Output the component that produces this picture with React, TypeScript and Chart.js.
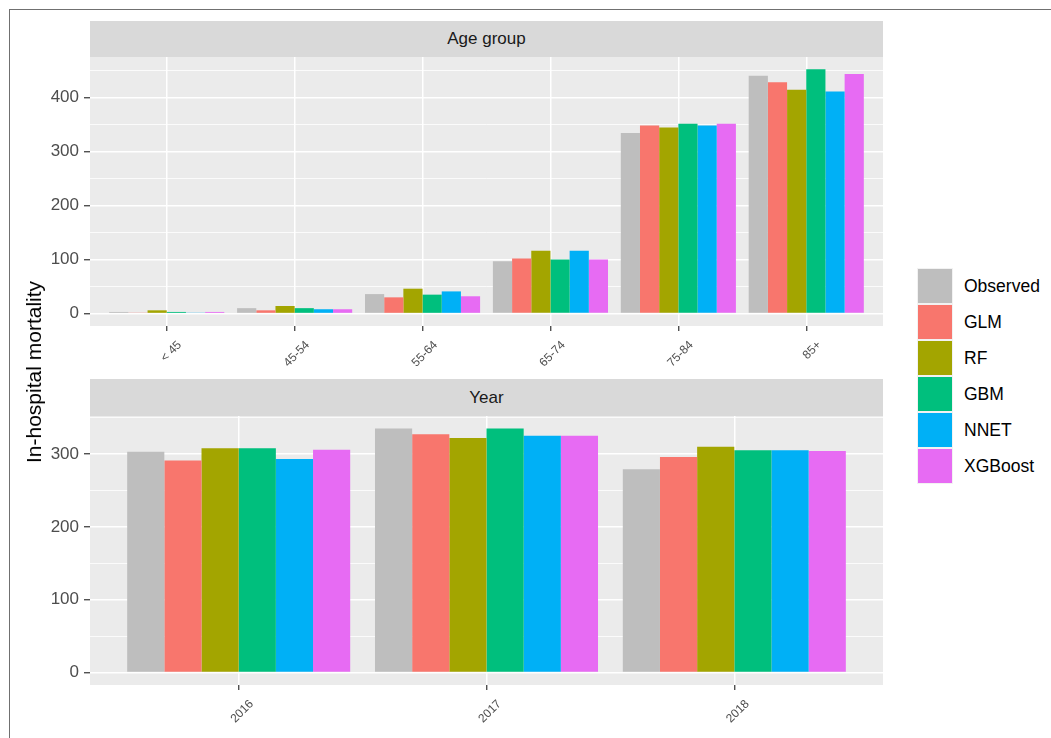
import React, { useEffect, useRef } from 'react';
import { Chart, registerables } from 'chart.js';

Chart.register(...registerables);

const FONT = '"Liberation Sans", Arial, sans-serif';

const seriesNames = ['Observed', 'GLM', 'RF', 'GBM', 'NNET', 'XGBoost'];
const seriesColors = ['#BEBEBE', '#F8766D', '#A3A500', '#00BF7D', '#00B0F6', '#E76BF3'];

const ageCategories = ['< 45', '45-54', '55-64', '65-74', '75-84', '85+'];
const ageObserved = [3, 10, 36, 97, 334, 440];
const ageGLM = [1, 6, 30, 102, 348, 428];
const ageRF = [6, 14, 46, 116, 344, 414];
const ageGBM = [3, 10, 35, 100, 351, 452];
const ageNNET = [1, 8, 41, 116, 348, 411];
const ageXGBoost = [3, 8, 32, 100, 351, 443];

const yearCategories = ['2016', '2017', '2018'];
const yearObserved = [303, 335, 279];
const yearGLM = [291, 327, 296];
const yearRF = [308, 322, 310];
const yearGBM = [308, 335, 305];
const yearNNET = [293, 325, 305];
const yearXGBoost = [306, 325, 304];

const ageYTicks = [0, 50, 100, 150, 200, 250, 300, 350, 400, 450];
const yearYTicks = [0, 50, 100, 150, 200, 250, 300, 350];

const panelBg = {
  id: 'panelBg',
  beforeDraw(chart: any) {
    const { ctx, chartArea: a } = chart;
    ctx.save();
    ctx.fillStyle = '#EBEBEB';
    ctx.fillRect(a.left, a.top, a.right - a.left, a.bottom - a.top);
    ctx.restore();
  },
};

type Area = { left: number; top: number; right: number; bottom: number };

function buildConfig(
  categories: string[],
  series: number[][],
  yMin: number,
  yMax: number,
  yTicks: number[],
  width: number,
  height: number,
  area: Area
): any {
  const isMajor = (v: number) => v % 100 === 0;
  return {
    type: 'bar',
    data: {
      datasets: seriesNames.map((name, k) => ({
        label: name,
        data: series[k].map((v, i) => ({ x: i, y: v })),
        backgroundColor: seriesColors[k],
        borderWidth: 0,
        categoryPercentage: 0.9,
        barPercentage: 1,
      })),
    },
    options: {
      animation: false,
      responsive: false,
      devicePixelRatio: 1,
      layout: { padding: { top: area.top, left: 0, right: width - area.right, bottom: 0 } },
      plugins: { legend: { display: false }, tooltip: { enabled: false } },
      scales: {
        x: {
          type: 'linear',
          min: -0.6,
          max: categories.length - 0.4,
          offset: false,
          afterBuildTicks: (s: any) => {
            s.ticks = categories.map((_, i) => ({ value: i }));
          },
          afterFit: (s: any) => {
            s.height = height - area.bottom;
          },
          border: { display: false },
          grid: {
            offset: false,
            color: '#FFFFFF',
            lineWidth: 1.5,
            tickColor: '#333333',
            tickLength: 5,
            tickWidth: 1.2,
          },
          ticks: {
            autoSkip: false,
            minRotation: 45,
            maxRotation: 45,
            labelOffset: 13,
            padding: 7,
            color: '#4D4D4D',
            font: { family: FONT, size: 12 },
            callback: (v: any) => (categories[v] !== undefined ? categories[v] : ''),
          },
        },
        y: {
          type: 'linear',
          min: yMin,
          max: yMax,
          afterBuildTicks: (s: any) => {
            s.ticks = yTicks.map((v) => ({ value: v }));
          },
          afterFit: (s: any) => {
            s.width = area.left;
          },
          border: { display: false },
          grid: {
            color: '#FFFFFF',
            lineWidth: (c: any) => (c.tick && isMajor(c.tick.value) ? 1.5 : 0.8),
            tickColor: (c: any) => (c.tick && isMajor(c.tick.value) ? '#333333' : 'rgba(0,0,0,0)'),
            tickLength: 6,
            tickWidth: 1.2,
          },
          ticks: {
            padding: 5,
            color: '#4D4D4D',
            font: { family: FONT, size: 17 },
            callback: (v: any) => (isMajor(v) ? String(v) : ''),
          },
        },
      },
    },
    plugins: [panelBg],
  };
}

function Panel(props: {
  top: number;
  width: number;
  height: number;
  categories: string[];
  series: number[][];
  yMin: number;
  yMax: number;
  yTicks: number[];
  area: Area;
}) {
  const ref = useRef<HTMLCanvasElement | null>(null);
  useEffect(() => {
    if (!ref.current) return;
    const chart = new Chart(
      ref.current,
      buildConfig(props.categories, props.series, props.yMin, props.yMax, props.yTicks, props.width, props.height, props.area)
    );
    return () => chart.destroy();
  }, []);
  return (
    <canvas
      ref={ref}
      width={props.width}
      height={props.height}
      style={{ position: 'absolute', left: 0, top: props.top, width: props.width, height: props.height }}
    />
  );
}

function Strip(props: { top: number; height: number; text: string }) {
  return (
    <div
      style={{
        position: 'absolute',
        left: 90,
        top: props.top,
        width: 793,
        height: props.height,
        background: '#D9D9D9',
        color: '#1A1A1A',
        fontFamily: FONT,
        fontSize: 17,
        display: 'flex',
        alignItems: 'center',
        justifyContent: 'center',
      }}
    >
      {props.text}
    </div>
  );
}

export default function App() {
  return (
    <div
      style={{
        position: 'fixed',
        left: 0,
        top: 0,
        width: 1051,
        height: 738,
        background: '#FFFFFF',
        overflow: 'hidden',
      }}
    >
      <div
        style={{
          position: 'absolute',
          left: 9,
          top: 9,
          right: 0,
          bottom: 0,
          borderTop: '1px solid #707070',
          borderLeft: '1px solid #707070',
        }}
      />
      <Panel
        top={0}
        width={900}
        height={379}
        categories={ageCategories}
        series={[ageObserved, ageGLM, ageRF, ageGBM, ageNNET, ageXGBoost]}
        yMin={-23}
        yMax={474.6}
        yTicks={ageYTicks}
        area={{ left: 90, top: 57, right: 883, bottom: 326 }}
      />
      <Panel
        top={379}
        width={900}
        height={359}
        categories={yearCategories}
        series={[yearObserved, yearGLM, yearRF, yearGBM, yearNNET, yearXGBoost]}
        yMin={-17.2}
        yMax={352.2}
        yTicks={yearYTicks}
        area={{ left: 90, top: 37, right: 883, bottom: 306 }}
      />
      <Strip top={21} height={36} text="Age group" />
      <Strip top={379} height={37} text="Year" />
      <div
        style={{
          position: 'absolute',
          left: 34,
          top: 372,
          transform: 'translate(-50%, -50%) rotate(-90deg)',
          whiteSpace: 'nowrap',
          fontFamily: FONT,
          fontSize: 21,
          color: '#000000',
        }}
      >
        In-hospital mortality
      </div>
      {seriesNames.map((name, k) => (
        <div
          key={name}
          style={{ position: 'absolute', left: 917, top: 268 + k * 36, height: 36, display: 'flex', alignItems: 'center' }}
        >
          <div
            style={{
              width: 34,
              height: 34,
              background: seriesColors[k],
              border: '1px solid #F2F2F2',
            }}
          />
          <span style={{ marginLeft: 11, fontFamily: FONT, fontSize: 17.5, color: '#000000', whiteSpace: 'nowrap' }}>
            {name}
          </span>
        </div>
      ))}
    </div>
  );
}
